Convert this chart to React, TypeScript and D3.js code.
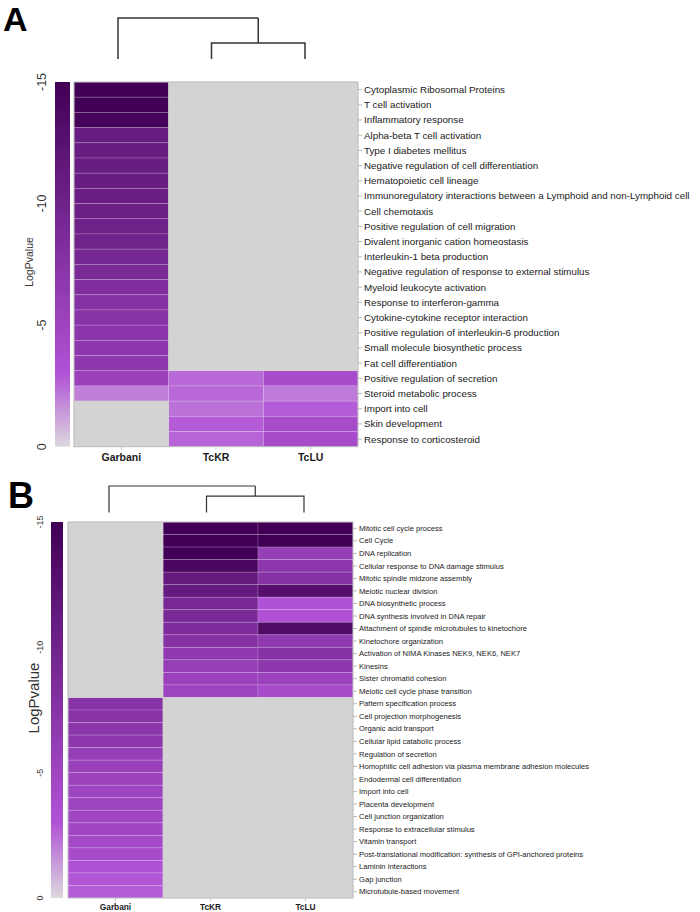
import React from 'react';
import * as d3 from 'd3';

const samples = ['Garbani', 'TcKR', 'TcLU'];

const termsA = [
  'Cytoplasmic Ribosomal Proteins',
  'T cell activation',
  'Inflammatory response',
  'Alpha-beta T cell activation',
  'Type I diabetes mellitus',
  'Negative regulation of cell differentiation',
  'Hematopoietic cell lineage',
  'Immunoregulatory interactions between a Lymphoid and non-Lymphoid cell',
  'Cell chemotaxis',
  'Positive regulation of cell migration',
  'Divalent inorganic cation homeostasis',
  'Interleukin-1 beta production',
  'Negative regulation of response to external stimulus',
  'Myeloid leukocyte activation',
  'Response to interferon-gamma',
  'Cytokine-cytokine receptor interaction',
  'Positive regulation of interleukin-6 production',
  'Small molecule biosynthetic process',
  'Fat cell differentiation',
  'Positive regulation of secretion',
  'Steroid metabolic process',
  'Import into cell',
  'Skin development',
  'Response to corticosteroid',
];
const garbaniA = [-15, -15, -14.6, -10.9, -10.9, -10.8, -10.8, -10.6, -10.4, -10.2, -9.9, -9.5,
  -8.9, -8.3, -7.8, -7.6, -7.2, -7.0, -6.8, -5.6, -2.0, null, null, null];
const tckrA = [null, null, null, null, null, null, null, null, null, null, null, null,
  null, null, null, null, null, null, null, -2.5, -2.5, -2.3, -2.8, -2.6];
const tcluA = [null, null, null, null, null, null, null, null, null, null, null, null,
  null, null, null, null, null, null, null, -4.0, -2.1, -2.8, -4.0, -4.0];

const termsB = [
  'Mitotic cell cycle process',
  'Cell Cycle',
  'DNA replication',
  'Cellular response to DNA damage stimulus',
  'Mitotic spindle midzone assembly',
  'Meiotic nuclear division',
  'DNA biosynthetic process',
  'DNA synthesis involved in DNA repair',
  'Attachment of spindle microtubules to kinetochore',
  'Kinetochore organization',
  'Activation of NIMA Kinases NEK9, NEK6, NEK7',
  'Kinesins',
  'Sister chromatid cohesion',
  'Meiotic cell cycle phase transition',
  'Pattern specification process',
  'Cell projection morphogenesis',
  'Organic acid transport',
  'Cellular lipid catabolic process',
  'Regulation of secretion',
  'Homophilic cell adhesion via plasma membrane adhesion molecules',
  'Endodermal cell differentiation',
  'Import into cell',
  'Placenta development',
  'Cell junction organization',
  'Response to extracellular stimulus',
  'Vitamin transport',
  'Post-translational modification: synthesis of GPI-anchored proteins',
  'Laminin interactions',
  'Gap junction',
  'Microtubule-based movement',
];
const garbaniB = [null, null, null, null, null, null, null, null, null, null, null, null, null, null,
  -7.4, -7.4, -7.2, -7.0, -5.9, -5.7, -5.5, -5.1, -5.1, -4.9, -4.7, -4.3, -4.0, -3.1, -2.9, -2.8];
const tckrB = [-15, -15, -15, -14.0, -11.3, -11.2, -9.1, -8.9, -8.5, -7.8, -6.5, -6.0, -5.5, -5.1,
  null, null, null, null, null, null, null, null, null, null, null, null, null, null, null, null];
const tcluB = [-15, -15, -6.0, -7.0, -7.7, -12.8, -3.1, -3.1, -13.4, -6.5, -7.7, -7.0, -5.5, -4.0,
  null, null, null, null, null, null, null, null, null, null, null, null, null, null, null, null];

const legendTicks = [-15, -10, -5, 0];

// height of the TcKR/TcLU merge, relative to the root merge
const mergeA = 0.39;
const mergeB = 0.62;

const FONT = 'Liberation Sans, Arial, sans-serif';
const NA_GREY = '#d3d3d3';
const color = d3.scaleLinear<string>()
  .domain([0, -3, -15])
  .range(['#dcd8de', '#b152d6', '#410056'])
  .clamp(true);

function Heatmap(props: any) {
  const { id, letter, terms, series, merge, lay } = props;

  const x = d3.scaleBand().domain(samples).range([lay.x0, lay.x1]);
  const y = d3.scaleBand().domain(terms).range([lay.y0, lay.y1]);
  const ly = d3.scaleLinear().domain([-15, 0]).range([lay.y0, lay.y1]);

  // dendrogram
  const dx = d3.scalePoint().domain(samples).range([lay.leaf0, lay.leaf1]);
  const dy = d3.scaleLinear().domain([0, 1]).range([lay.yLeaf, lay.yRoot]);
  const xg = dx('Garbani')!, xk = dx('TcKR')!, xl = dx('TcLU')!;
  const xm = (xk + xl) / 2;
  const p = d3.path();
  p.moveTo(xk, dy(0)); p.lineTo(xk, dy(merge)); p.lineTo(xl, dy(merge)); p.lineTo(xl, dy(0));
  p.moveTo(xm, dy(merge)); p.lineTo(xm, dy(1));
  p.moveTo(xg, dy(0)); p.lineTo(xg, dy(1)); p.lineTo(xm, dy(1));

  const stops = d3.range(0, 16, 0.5);

  return (
    <g fontFamily={FONT}>
      <text x={lay.letterX} y={lay.letterY} fontSize={lay.letterSize} fontWeight="bold" fill="#000">{letter}</text>
      <path d={p.toString()} fill="none" stroke="#333" strokeWidth={lay.dendroW} />

      <defs>
        <linearGradient id={id} x1="0" y1="1" x2="0" y2="0">
          {stops.map(s => (
            <stop key={s} offset={s / 15} stopColor={color(-s)} />
          ))}
        </linearGradient>
      </defs>
      <rect x={lay.legX} y={lay.y0} width={lay.legW} height={lay.y1 - lay.y0} fill={`url(#${id})`} />
      {legendTicks.map(t => (
        <text key={t} transform={`translate(${lay.tickX},${ly(t)}) rotate(-90)`} textAnchor="middle"
          fontSize={lay.tickSize} fill="#333">{t}</text>
      ))}
      <text transform={`translate(${lay.titleX},${lay.titleY}) rotate(-90)`} textAnchor="middle"
        fontSize={lay.titleSize} fill="#333">LogPvalue</text>

      {samples.map((s, j) => terms.map((t: string, i: number) => {
        const v = series[j][i];
        return (
          <rect key={s + t} x={x(s)} y={y(t)} width={x.bandwidth()} height={y.bandwidth()}
            fill={v == null ? NA_GREY : color(v)}
            stroke={v == null ? 'none' : 'rgba(255,255,255,0.2)'} strokeWidth={0.8} />
        );
      }))}
      {samples.map((s, j) => terms.map((t: string, i: number) => series[j][i] == null ? (
        <rect key={'na' + s + t} x={x(s)! - 0.3} y={y(t)! - 0.3} width={x.bandwidth() + 0.6}
          height={y.bandwidth() + 0.6} fill={NA_GREY} />
      ) : null))}
      <rect x={lay.x0} y={lay.y0} width={lay.x1 - lay.x0} height={lay.y1 - lay.y0}
        fill="none" stroke="#bdbdbd" strokeWidth={1} />

      {terms.map((t: string) => (
        <g key={t}>
          <line x1={lay.x1} x2={lay.x1 + 4} y1={y(t)! + y.bandwidth() / 2} y2={y(t)! + y.bandwidth() / 2}
            stroke="#aaa" strokeWidth={0.8} />
          <text x={lay.x1 + 6} y={y(t)! + y.bandwidth() / 2} dy="0.35em" fontSize={lay.rowSize}
            fill="#1a1a1a">{t}</text>
        </g>
      ))}
      {samples.map(s => (
        <g key={s}>
          <line x1={x(s)! + x.bandwidth() / 2} x2={x(s)! + x.bandwidth() / 2} y1={lay.y1} y2={lay.y1 + 3}
            stroke="#bdbdbd" strokeWidth={0.8} />
          <text x={x(s)! + x.bandwidth() / 2} y={lay.colY} textAnchor="middle" fontSize={lay.colSize}
            fontWeight="bold" fill="#1a1a1a">{s}</text>
        </g>
      ))}
    </g>
  );
}

const layoutA = {
  x0: 74, x1: 358, y0: 82, y1: 446.7,
  leaf0: 118, leaf1: 305, yLeaf: 59, yRoot: 18, dendroW: 1.5,
  letterX: 3, letterY: 31, letterSize: 34,
  legX: 55, legW: 15, tickX: 46, tickSize: 12.5,
  titleX: 33, titleY: 262, titleSize: 10.5,
  rowSize: 9.8, colSize: 10.5, colY: 461,
};

const layoutB = {
  x0: 68, x1: 353, y0: 522, y1: 898,
  leaf0: 109, leaf1: 304, yLeaf: 512.5, yRoot: 486, dendroW: 1.2,
  letterX: 8, letterY: 508, letterSize: 36,
  legX: 51, legW: 12, tickX: 43, tickSize: 9,
  titleX: 39, titleY: 698, titleSize: 15,
  rowSize: 7.6, colSize: 8.3, colY: 910,
};

export default function App() {
  return (
    <svg width={700} height={912} style={{ position: 'absolute', left: 0, top: 0, background: '#fff' }}>
      <Heatmap id="gradA" letter="A" terms={termsA} series={[garbaniA, tckrA, tcluA]} merge={mergeA} lay={layoutA} />
      <Heatmap id="gradB" letter="B" terms={termsB} series={[garbaniB, tckrB, tcluB]} merge={mergeB} lay={layoutB} />
    </svg>
  );
}
